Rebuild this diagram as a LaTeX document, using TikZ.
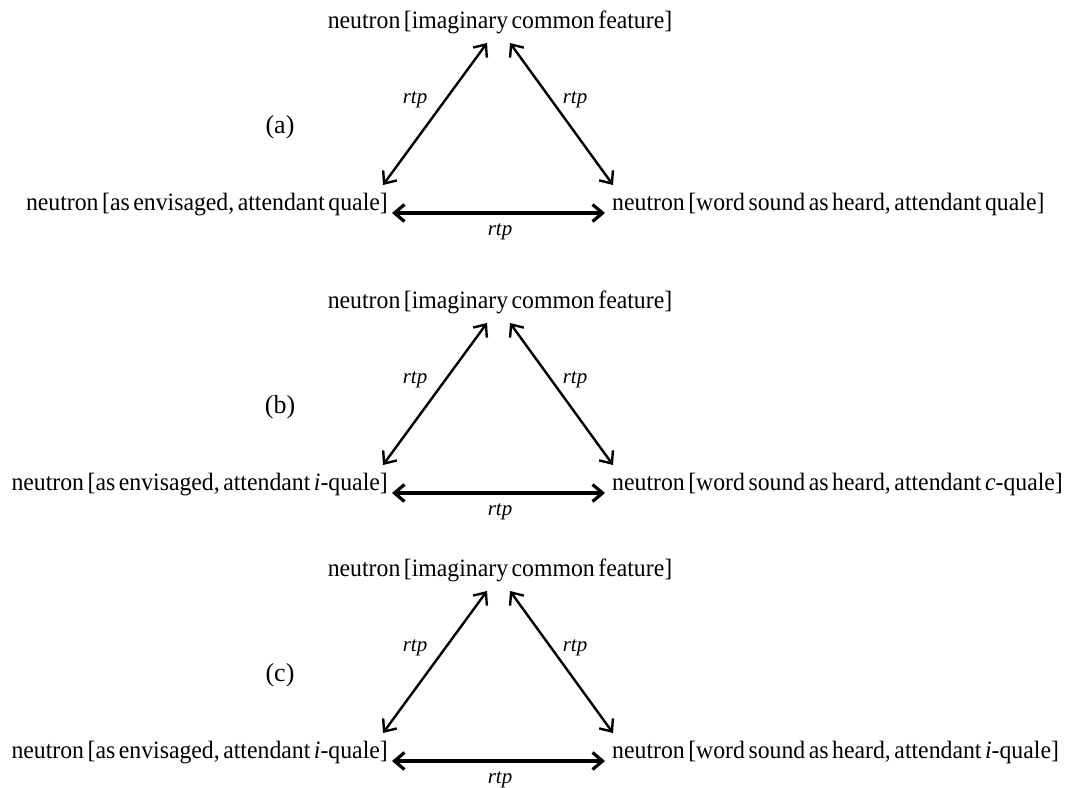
\documentclass[tikz,border=0pt]{standalone}
\usepackage{fontspec}
\setmainfont{Liberation Serif}
\usetikzlibrary{arrows.meta}

% slightly narrowed, tightly spaced setting for the term labels
\newcommand{\nt}[1]{\scalebox{0.95}[1]{\spaceskip=0.15em plus 0.05em\relax #1}}

% one triangle of relations: apex feature, two attendant views, rtp links
\newcommand{\rtptriangle}[5]{%
  % #1 shift, #2 panel name, #3 panel letter, #4 left text, #5 right text
  \begin{scope}[yshift=#1]
    \node[term, anchor=base] (top#2) at (500,28) {\nt{neutron [imaginary common feature]}};
    \node[term, anchor=base east] (left#2) at (388,210) {\nt{#4}};
    \node[term, anchor=base west] (right#2) at (612,210) {\nt{#5}};
    \node[tag] (tag#2) at (280,127) {(#3)};
    \coordinate (lt#2) at (487,43);
    \coordinate (lb#2) at (383,185);
    \coordinate (rt#2) at (510,43);
    \coordinate (rb#2) at (613,185);
    \coordinate (bl#2) at (392,213);
    \coordinate (br#2) at (605,213);
    \draw[rel] (lb#2) -- (lt#2);
    \draw[rel] (rb#2) -- (rt#2);
    \draw[rel, line width=3.2pt] (bl#2) -- (br#2);
    \node[lab] (rl#2) at (415,100) {rtp};
    \node[lab] (rr#2) at (575,100) {rtp};
    \node[lab] (rm#2) at (500,232) {rtp};
  \end{scope}%
}

\begin{document}
\begin{tikzpicture}[x=1pt, y=-1pt,
  term/.style={inner sep=0pt, font=\fontsize{25}{30}\selectfont},
  tag/.style={inner sep=0pt, font=\fontsize{26}{30}\selectfont},
  lab/.style={inner sep=0pt, font=\fontsize{21}{24}\selectfont\itshape},
  rel/.style={line width=2.4pt, {Straight Barb[length=10pt,width=17pt]}-{Straight Barb[length=10pt,width=17pt]}}]
  \useasboundingbox[fill=white] (0,0) rectangle (1065,787);
  \rtptriangle{0pt}{a}{a}{neutron [as envisaged, attendant quale]}{neutron [word sound as heard, attendant quale]}
  \rtptriangle{-280pt}{b}{b}{neutron [as envisaged, attendant \textit{i}-quale]}{neutron [word sound as heard, attendant \textit{c}-quale]}
  \rtptriangle{-548pt}{c}{c}{neutron [as envisaged, attendant \textit{i}-quale]}{neutron [word sound as heard, attendant \textit{i}-quale]}
\end{tikzpicture}
\end{document}
